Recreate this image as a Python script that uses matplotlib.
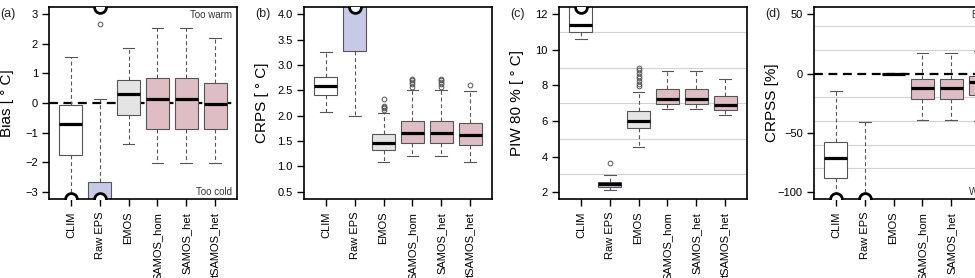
import matplotlib
matplotlib.use("Agg")
import matplotlib.pyplot as plt
from matplotlib.ticker import FixedLocator

plt.rcParams['font.family'] = ['Liberation Sans', 'DejaVu Sans']

# ---------------- data ----------------
models = ["CLIM", "Raw EPS", "EMOS", "SAMOS_hom", "SAMOS_het", "tSAMOS_het"]
fills = ["#FFFFFF", "#C7C9E6", "#E4E4E4", "#DEBEC4", "#DEBEC4", "#DEBEC4"]

# (a) Bias [deg C]
bias_q1 = [-1.75, -4.30, -0.42, -0.87, -0.87, -0.87]
bias_med = [-0.72, -3.70, 0.32, 0.13, 0.13, -0.02]
bias_q3 = [-0.07, -2.67, 0.78, 0.85, 0.85, 0.66]
bias_lo = [-3.90, -6.00, -1.40, -2.01, -2.01, -2.01]
bias_hi = [1.56, 0.13, 1.85, 2.54, 2.54, 2.21]
bias_fl = [[], [2.66, 3.50], [], [], [], []]

# (b) CRPS [deg C]
crps_q1 = [2.40, 3.27, 1.33, 1.46, 1.46, 1.43]
crps_med = [2.59, 4.30, 1.46, 1.66, 1.66, 1.62]
crps_q3 = [2.77, 5.00, 1.64, 1.89, 1.89, 1.86]
crps_lo = [2.08, 2.00, 1.09, 1.20, 1.20, 1.09]
crps_hi = [3.26, 6.50, 2.05, 2.50, 2.50, 2.48]
crps_fl = [[], [], [2.12, 2.15, 2.18, 2.20, 2.33],
           [2.57, 2.62, 2.66, 2.70, 2.73], [2.57, 2.62, 2.66, 2.70, 2.73], [2.61]]

# (c) PIW 80 % [deg C]
piw_q1 = [10.99, 2.32, 5.60, 6.96, 6.96, 6.62]
piw_med = [11.40, 2.45, 6.00, 7.22, 7.25, 6.89]
piw_q3 = [12.60, 2.60, 6.57, 7.80, 7.80, 7.43]
piw_lo = [10.60, 2.13, 4.56, 6.68, 6.68, 6.34]
piw_hi = [13.80, 2.95, 7.65, 8.83, 8.83, 8.35]
piw_fl = [[], [3.63], [7.95, 8.10, 8.25, 8.40, 8.55, 8.70, 8.85, 9.00], [], [], []]

# (d) CRPSS [%]
crpss_q1 = [-87.8, -200.0, 0.0, -21.7, -21.7, -18.5]
crpss_med = [-71.2, -170.0, 0.0, -11.8, -11.8, -7.0]
crpss_q3 = [-57.7, -140.0, 0.0, -4.8, -4.8, -1.7]
crpss_lo = [-115.0, -250.0, 0.0, -38.8, -38.8, -40.0]
crpss_hi = [-14.7, -40.5, 0.0, 17.7, 17.7, 19.0]
crpss_fl = [[], [], [], [], [], []]

panels = [
    dict(tag="(a)", ylabel="Bias [ ° C]", ylim=(-3.24, 3.24), ticks=[-3, -2, -1, 0, 1, 2, 3],
         grid=[-3, -2, -1, 0, 1, 2, 3], zero=True, top="Too warm", bottom="Too cold",
         q1=bias_q1, med=bias_med, q3=bias_q3, lo=bias_lo, hi=bias_hi, fl=bias_fl,
         fmt=None),
    dict(tag="(b)", ylabel="CRPS [ ° C]", ylim=(0.36, 4.14),
         ticks=[0.5, 1.0, 1.5, 2.0, 2.5, 3.0, 3.5, 4.0],
         grid=[0.5, 1.0, 1.5, 2.0, 2.5, 3.0, 3.5, 4.0], zero=False, top=None, bottom=None,
         q1=crps_q1, med=crps_med, q3=crps_q3, lo=crps_lo, hi=crps_hi, fl=crps_fl,
         fmt="%.1f"),
    dict(tag="(c)", ylabel="PIW 80 % [ ° C]", ylim=(1.62, 12.41), ticks=[2, 4, 6, 8, 10, 12],
         grid=list(range(2, 13)), zero=False, top=None, bottom=None,
         q1=piw_q1, med=piw_med, q3=piw_q3, lo=piw_lo, hi=piw_hi, fl=piw_fl,
         fmt=None),
    dict(tag="(d)", ylabel="CRPSS [%]", ylim=(-105.9, 56.2), ticks=[-100, -50, 0, 50],
         grid=list(range(-100, 41, 20)), zero=True, top="Better", bottom="Worse",
         q1=crpss_q1, med=crpss_med, q3=crpss_q3, lo=crpss_lo, hi=crpss_hi, fl=crpss_fl,
         fmt=None),
]

W, H = 975, 278
fig = plt.figure(figsize=(W / 100, H / 100), dpi=100)

edge = "#555555"
positions = list(range(1, len(models) + 1))

for i, p in enumerate(panels):
    x0 = 49 + 255 * i
    ax = fig.add_axes([x0 / W, (H - 199) / H, 188 / W, 192 / H])
    stats = []
    for k in range(len(models)):
        stats.append(dict(med=p["med"][k], q1=p["q1"][k], q3=p["q3"][k],
                          whislo=p["lo"][k], whishi=p["hi"][k],
                          fliers=p["fl"][k], label=models[k]))
    res = ax.bxp(stats, positions=positions, widths=0.8, capwidths=0.4,
                 patch_artist=True, manage_ticks=False,
                 boxprops=dict(edgecolor=edge, linewidth=0.8),
                 medianprops=dict(color="black", linewidth=2.3, solid_capstyle="butt"),
                 whiskerprops=dict(color=edge, linewidth=0.8, linestyle=(0, (3.5, 2.5))),
                 capprops=dict(color=edge, linewidth=0.8),
                 flierprops=dict(marker="o", markersize=3.4, markerfacecolor="none",
                                 markeredgecolor=edge, markeredgewidth=0.7))
    for patch, c in zip(res["boxes"], fills):
        patch.set_facecolor(c)
        patch.set_zorder(2)

    ymin, ymax = p["ylim"]
    ax.set_xlim(0.24, 6.76)
    ax.set_ylim(ymin, ymax)

    # off-range indicators
    for k in range(len(models)):
        allhi = max([p["hi"][k], p["q3"][k]] + p["fl"][k])
        alllo = min([p["lo"][k], p["q1"][k]] + p["fl"][k])
        if allhi > ymax:
            ax.plot(positions[k], ymax, marker="o", ms=8.5, mfc="white", mec="black",
                    mew=2.0, zorder=6, clip_on=True)
        if alllo < ymin:
            ax.plot(positions[k], ymin, marker="o", ms=8.5, mfc="white", mec="black",
                    mew=2.0, zorder=6, clip_on=True)

    if p["zero"]:
        ax.axhline(0, color="black", lw=1.6, ls=(0, (4, 2.5)), zorder=1.5)

    ax.set_yticks(p["ticks"])
    if p["fmt"]:
        ax.set_yticklabels([p["fmt"] % t for t in p["ticks"]])
    ax.yaxis.set_minor_locator(FixedLocator(p["grid"]))
    ax.grid(True, which="minor", axis="y", color="#D2D2D2", lw=0.8)
    ax.set_axisbelow(True)
    ax.set_xticks(positions)
    ax.set_xticklabels(models, rotation=90, fontsize=8)
    ax.tick_params(axis="both", which="major", length=5, width=1.0, color="black",
                   labelsize=8, labelcolor="black")
    ax.tick_params(axis="x", pad=4.3)
    ax.tick_params(axis="y", pad=3)
    ax.tick_params(axis="y", which="minor", length=0)
    for s in ax.spines.values():
        s.set_linewidth(1.2)
        s.set_color("black")

    ax.set_ylabel(p["ylabel"], fontsize=11, va="center")
    ax.yaxis.set_label_coords(-42 / 188, 0.5)

    if p["top"]:
        ax.text(1 - 5 / 188, 1 - 7.7 / 192, p["top"], transform=ax.transAxes,
                ha="right", va="center", fontsize=7, color="#333333")
    if p["bottom"]:
        ax.text(1 - 5 / 188, 7 / 192, p["bottom"], transform=ax.transAxes,
                ha="right", va="center", fontsize=7, color="#333333")

    fig.text((255 * i - 1) / W + 0.001, 1 - 14 / H, p["tag"], ha="left", va="center",
             fontsize=9, color="#222222")

fig.savefig("out.png", dpi=100)
